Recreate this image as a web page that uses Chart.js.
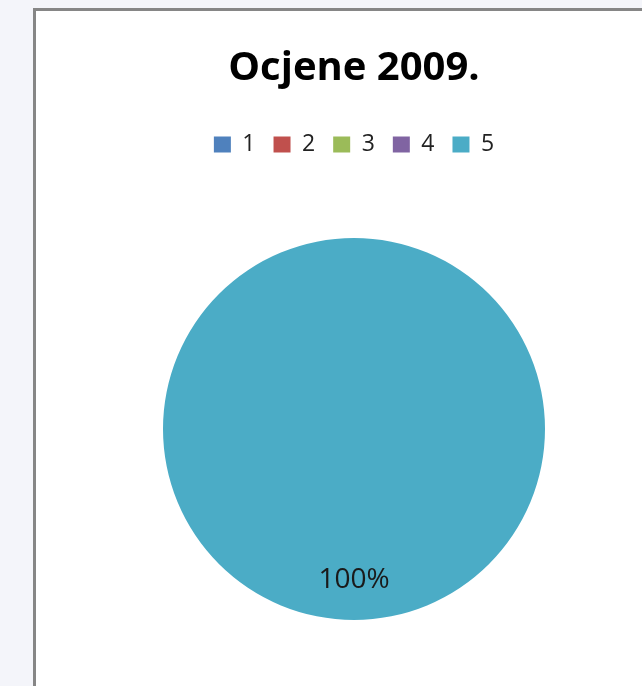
<!DOCTYPE html>
<html>
<head>
<meta charset="utf-8">
<script src="https://cdn.jsdelivr.net/npm/chart.js@4/dist/chart.umd.min.js"></script>
<style>
  html, body { margin: 0; padding: 0; background: #f4f5fa; overflow: hidden; width: 642px; height: 686px; }
  #panel {
    position: absolute; left: 33px; top: 8px; width: 700px; height: 720px;
    background: #fff; border-left: 3px solid #868686; border-top: 3px solid #868686;
  }
  #wrap { position: absolute; left: 0; top: 0; width: 636px; height: 690px; }
</style>
</head>
<body>
<div id="panel"><div id="wrap"><canvas id="myChart"></canvas></div></div>
<script>
var grades = ['1', '2', '3', '4', '5'];
var shares = [0, 0, 0, 0, 100];
var sliceColors = ['#4f81bd', '#c0504d', '#9bbb59', '#8064a2', '#4bacc6'];

// puts the percent label inside each non-empty slice
var sliceLabels = {
  id: 'sliceLabels',
  afterDatasetsDraw: function (chart) {
    var ctx = chart.ctx;
    var meta = chart.getDatasetMeta(0);
    var total = shares.reduce(function (a, b) { return a + b; }, 0);
    ctx.save();
    ctx.font = '28px "Open Sans"';
    ctx.fillStyle = '#1a1a1a';
    ctx.textAlign = 'center';
    ctx.textBaseline = 'middle';
    meta.data.forEach(function (arc, i) {
      if (!shares[i]) return;
      var p = arc.getProps(['x', 'y', 'startAngle', 'endAngle', 'outerRadius']);
      var mid = (p.startAngle + p.endAngle) / 2;
      var r = p.outerRadius * 0.79;
      ctx.fillText(Math.round(shares[i] / total * 100) + '%', p.x + Math.cos(mid) * r, p.y + Math.sin(mid) * r);
    });
    ctx.restore();
  }
};

var ctx = document.getElementById('myChart').getContext('2d');

var myChart = new Chart(ctx, {
  type: 'pie',
  data: {
    labels: grades,
    datasets: [{
      data: shares,
      backgroundColor: sliceColors,
      borderWidth: 0
    }]
  },
  options: {
    responsive: true,
    maintainAspectRatio: false,
    animation: false,
    layout: { padding: { top: 0, bottom: 9, left: 127, right: 127 } },
    plugins: {
      title: {
        display: true,
        text: 'Ocjene 2009.',
        color: '#000',
        font: { family: '"Open Sans"', size: 40, weight: 'bold' },
        padding: { top: 34, bottom: 22 }
      },
      legend: {
        position: 'top',
        labels: {
          color: '#222',
          font: { family: '"Open Sans"', size: 23 },
          boxWidth: 17,
          boxHeight: 16,
          padding: 18
        }
      },
      tooltip: { enabled: false }
    }
  },
  plugins: [sliceLabels]
});
</script>
</body>
</html>
